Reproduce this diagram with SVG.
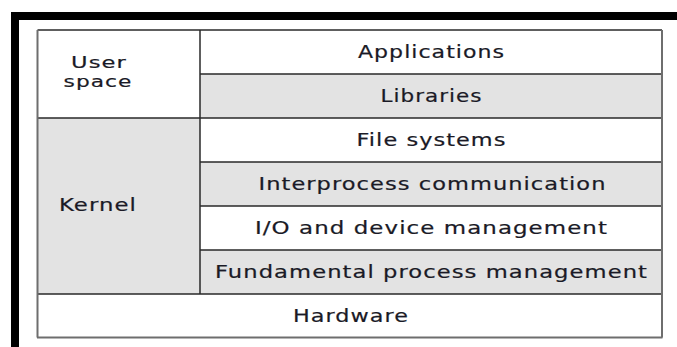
<svg xmlns="http://www.w3.org/2000/svg" width="677" height="347" viewBox="0 0 677 347">
<style>
.t{font-family:"DejaVu Sans",Verdana,sans-serif;font-size:17px;letter-spacing:0.8px;fill:#1a1a26;stroke:#1a1a26;stroke-width:0.2;text-anchor:middle}
.s{font-size:16px}
.g{fill:#e3e3e3}
.w{fill:#ffffff}
.ln{stroke:#2a2a2a;stroke-width:1.5;fill:none}
</style>
<rect x="0" y="0" width="677" height="347" fill="#ffffff"/>
<g id="frame">
<rect x="11" y="12" width="666" height="8" fill="#000"/>
<rect x="11" y="12" width="8" height="335" fill="#000"/>
</g>
<g id="user-space"><rect class="w" x="37.5" y="30" width="162.5" height="88"/><text class="t s" x="99" y="68" textLength="56" lengthAdjust="spacingAndGlyphs">User</text><text class="t s" x="98" y="87" textLength="69" lengthAdjust="spacingAndGlyphs">space</text></g>
<g id="kernel"><rect class="g" x="37.5" y="118" width="162.5" height="176"/><text class="t" x="98" y="211" textLength="78" lengthAdjust="spacingAndGlyphs">Kernel</text></g>
<g id="applications"><rect class="w" x="200" y="30" width="462" height="44"/><text class="t" x="431.5" y="57.5" textLength="147" lengthAdjust="spacingAndGlyphs">Applications</text></g>
<g id="libraries"><rect class="g" x="200" y="74" width="462" height="44"/><text class="t" x="431.5" y="101.5" textLength="102" lengthAdjust="spacingAndGlyphs">Libraries</text></g>
<g id="file-systems"><rect class="w" x="200" y="118" width="462" height="44"/><text class="t" x="431.5" y="145.5" textLength="150" lengthAdjust="spacingAndGlyphs">File systems</text></g>
<g id="ipc"><rect class="g" x="200" y="162" width="462" height="44"/><text class="t" x="432.5" y="189.5" textLength="348" lengthAdjust="spacingAndGlyphs">Interprocess communication</text></g>
<g id="io"><rect class="w" x="200" y="206" width="462" height="44"/><text class="t" x="431.5" y="233.5" textLength="353" lengthAdjust="spacingAndGlyphs">I/O and device management</text></g>
<g id="fpm"><rect class="g" x="200" y="250" width="462" height="44"/><text class="t" x="431.5" y="277.5" textLength="433" lengthAdjust="spacingAndGlyphs">Fundamental process management</text></g>
<g id="hardware"><rect class="w" x="37.5" y="294" width="624.5" height="43"/><text class="t" x="351" y="322" textLength="116" lengthAdjust="spacingAndGlyphs">Hardware</text></g>
<g id="lines">
<path class="ln" d="M37.5 30H662M200 30V294M200 74H662M37.5 118H662M200 162H662M200 206H662M200 250H662M37.5 294H662"/>
<path d="M37.5 30V337.5M662 30V337.5M37 337.5H662.5" stroke="#6e6e6e" stroke-width="2" fill="none"/>
</g>
</svg>
